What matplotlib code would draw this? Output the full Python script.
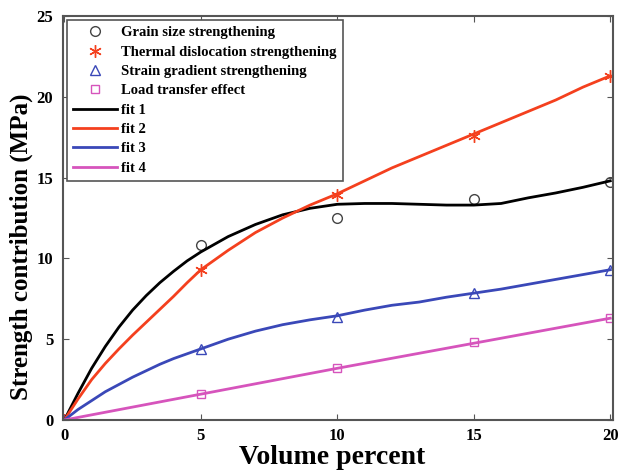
import numpy as np
import matplotlib
matplotlib.use('Agg')
import matplotlib.pyplot as plt

plt.rcParams['font.family'] = ['Liberation Serif', 'DejaVu Serif']
plt.rcParams['font.weight'] = 'bold'

# measured points
vol = [0, 5, 10, 15, 20]
grain = [0, 10.8, 12.5, 13.65, 14.7]
thermal = [0, 9.3, 13.9, 17.6, 21.3]
strain = [0, 4.4, 6.4, 7.85, 9.3]
load = [0, 1.6, 3.2, 4.8, 6.3]

# fit curves
fit_x = [0, 0.5, 1, 1.5, 2, 2.5, 3, 3.5, 4, 4.5, 5, 6, 7, 8, 9, 10, 11, 12,
         13, 14, 15, 16, 17, 18, 19, 20]
fit1 = [0, 1.65, 3.2, 4.55, 5.75, 6.8, 7.7, 8.5, 9.2, 9.85, 10.4, 11.35, 12.1,
        12.7, 13.1, 13.35, 13.4, 13.4, 13.35, 13.3, 13.3, 13.4, 13.75, 14.05,
        14.4, 14.8]
fit2 = [0, 1.3, 2.5, 3.5, 4.4, 5.25, 6.05, 6.85, 7.65, 8.5, 9.3, 10.5, 11.6,
        12.5, 13.3, 14.0, 14.8, 15.6, 16.3, 17.0, 17.7, 18.4, 19.1, 19.8,
        20.6, 21.3]
fit3 = [0, 0.65, 1.2, 1.75, 2.2, 2.65, 3.05, 3.45, 3.8, 4.1, 4.4, 5.0, 5.5,
        5.9, 6.2, 6.45, 6.8, 7.1, 7.3, 7.6, 7.85, 8.1, 8.4, 8.7, 9.0, 9.3]
fit4_x = [0, 5, 10, 15, 20]
fit4 = [0, 1.6, 3.2, 4.75, 6.3]

c_red = '#f4401e'
c_blue = '#3a48b8'
c_pink = '#d654bc'
c_gray = '#555555'

fig = plt.figure(figsize=(6.2, 4.74), dpi=100)
ax = fig.add_axes([0.1016, 0.1139, 0.8871, 0.8523])

ax.plot(vol, grain, 'o', mfc='none', mec='#444444', ms=7, mew=1.0,
        label='Grain size strengthening')
ax.plot(vol, thermal, ls='none', marker=(6, 2, 0), color=c_red, ms=9, mew=1.0,
        label='Thermal dislocation strengthening')
ax.plot(vol, strain, '^', mfc='none', mec=c_blue, ms=7, mew=1.0,
        label='Strain gradient strengthening')
ax.plot(vol, load, 's', mfc='none', mec=c_pink, ms=6, mew=1.0,
        label='Load transfer effect')
ax.plot(fit_x, fit1, color='black', lw=2, label='fit 1')
ax.plot(fit_x, fit2, color=c_red, lw=2, label='fit 2')
ax.plot(fit_x, fit3, color=c_blue, lw=2, label='fit 3')
ax.plot(fit4_x, fit4, color=c_pink, lw=2, label='fit 4')

ax.set_xlim(-0.05, 20.1)
ax.set_ylim(0, 25)
ax.set_xticks([0, 5, 10, 15, 20])
ax.set_yticks([0, 5, 10, 15, 20, 25])
ax.tick_params(direction='in', top=True, right=True, labelsize=12,
               color=c_gray, length=4)
ax.tick_params(axis='y', pad=7)
ax.tick_params(axis='x', pad=6)
for s in ax.spines.values():
    s.set_color(c_gray)
    s.set_linewidth(1.5)

ax.set_xlabel('Volume percent', fontsize=20, fontweight='bold')
ax.xaxis.set_label_coords(0.49, -0.062)
ax.set_ylabel('Strength contribution (MPa)', fontsize=18, fontweight='bold')
ax.yaxis.set_label_coords(-0.055, 0.43)

leg = ax.legend(loc='upper left', bbox_to_anchor=(0.0, 1.0), borderaxespad=0.3,
                fancybox=False, edgecolor=c_gray, framealpha=1,
                handlelength=3.0, handletextpad=0.3, labelspacing=0.42,
                borderpad=0.4, prop={'weight': 'bold', 'size': 10.5})
leg.get_frame().set_linewidth(1.2)

fig.savefig('out.png', dpi=100)
